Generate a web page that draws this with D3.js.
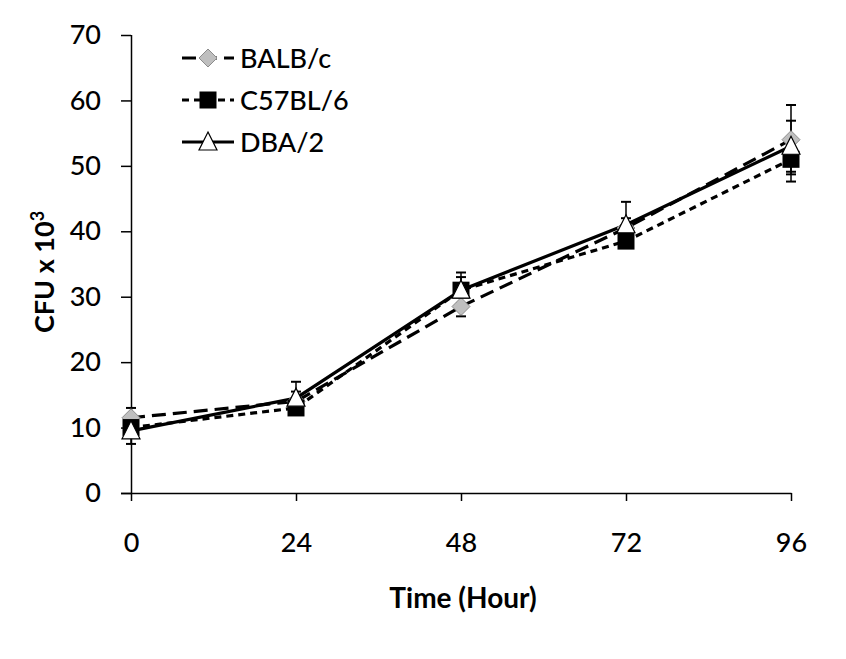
<!DOCTYPE html>
<html><head><meta charset="utf-8">
<script src="https://cdn.jsdelivr.net/npm/d3@7"></script>
<style>body{margin:0;background:#fff}svg{display:block}text{font-family:Lato,"Open Sans",sans-serif}</style>
</head><body>
<svg id="c" width="846" height="659"></svg>
<script>
const hours = [0, 24, 48, 72, 96];
const yTicks = [0, 10, 20, 30, 40, 50, 60, 70];
const seriesNames = ["BALB/c", "C57BL/6", "DBA/2"];
const balbValues = [11.5, 14.0, 28.5, 40.5, 54.0];
const balbErrors = [1.5, 1.5, 1.5, 1.5, 5.3];
const c57Values = [10.0, 13.0, 31.0, 38.5, 51.0];
const c57Errors = [1.0, 1.0, 2.7, 1.0, 3.4];
const dbaValues = [9.5, 14.5, 31.0, 41.0, 53.0];
const dbaErrors = [2.0, 2.5, 2.0, 3.5, 3.9];

const series = [
  {name: seriesNames[0], values: balbValues, errors: balbErrors, dash: "14,7", marker: "diamond"},
  {name: seriesNames[1], values: c57Values, errors: c57Errors, dash: "7,5", marker: "square"},
  {name: seriesNames[2], values: dbaValues, errors: dbaErrors, dash: null, marker: "triangle"}
];

const svg = d3.select("#c");
const x = d3.scaleLinear().domain([0, 96]).range([131, 791]);
const y = d3.scaleLinear().domain([0, 70]).range([493, 35]);

// axes
const yAxis = d3.axisLeft(y).tickValues(yTicks).tickSize(10).tickPadding(20);
const gy = svg.append("g").attr("transform", "translate(131,0)").call(yAxis);
const xAxis = d3.axisBottom(x).tickValues(hours).tickSize(8).tickPadding(32);
const gx = svg.append("g").attr("transform", "translate(0,493)").call(xAxis);
[gy, gx].forEach(g => {
  g.select(".domain").attr("stroke", "#000").attr("stroke-width", 1.5);
  g.selectAll(".tick line").attr("stroke", "#000").attr("stroke-width", 1.5);
  g.selectAll("text").attr("font-size", 27).attr("fill", "#000")
    .attr("font-weight", 500).style("font-family", "Lato, sans-serif");
});
gx.select(".domain").attr("d", "M121,0.5H791.5");
gy.select(".domain").attr("d", "M0.5,35V493");

// axis titles
svg.append("text").attr("x", 463).attr("y", 608).attr("text-anchor", "middle")
  .attr("font-size", 28).attr("font-weight", "bold").text("Time (Hour)");
const yl = svg.append("text").attr("transform", "translate(54,272) rotate(-90)")
  .attr("text-anchor", "middle").attr("font-size", 27).attr("font-weight", "bold");
yl.append("tspan").text("CFU x 10");
yl.append("tspan").attr("dy", -10).attr("font-size", 18).text("3");

const line = d3.line().x((d, i) => x(hours[i])).y(d => y(d));

function marker(g, type, cx, cy) {
  if (type === "diamond") {
    g.append("path").attr("d", `M${cx},${cy-9}L${cx+9},${cy}L${cx},${cy+9}L${cx-9},${cy}Z`)
      .attr("fill", "#bfbfbf").attr("stroke", "#8c8c8c").attr("stroke-width", 1);
  } else if (type === "square") {
    g.append("rect").attr("x", cx - 8.5).attr("y", cy - 8.5).attr("width", 17).attr("height", 17)
      .attr("fill", "#000");
  } else {
    g.append("path").attr("d", `M${cx},${cy-10}L${cx+9},${cy+8}L${cx-9},${cy+8}Z`)
      .attr("fill", "#fff").attr("stroke", "#000").attr("stroke-width", 1.2);
  }
}

// error bars
series.forEach(s => {
  const g = svg.append("g");
  s.values.forEach((v, i) => {
    const cx = x(hours[i]);
    const y1 = y(v + s.errors[i]), y0 = y(v - s.errors[i]);
    g.append("line").attr("x1", cx).attr("x2", cx).attr("y1", y1).attr("y2", y0)
      .attr("stroke", "#000").attr("stroke-width", 1.5);
    [y1, y0].forEach(yy => g.append("line").attr("x1", cx - 5).attr("x2", cx + 5)
      .attr("y1", yy).attr("y2", yy).attr("stroke", "#000").attr("stroke-width", 2));
  });
});

// lines
series.forEach(s => {
  svg.append("path").datum(s.values).attr("d", line).attr("fill", "none")
    .attr("stroke", "#000").attr("stroke-width", 3.2)
    .attr("stroke-dasharray", s.dash);
});

// markers
series.forEach(s => {
  const g = svg.append("g");
  s.values.forEach((v, i) => marker(g, s.marker, x(hours[i]), y(v)));
});

// legend
const legY = [58, 100, 142];
series.forEach((s, i) => {
  const g = svg.append("g");
  g.append("line").attr("x1", 182).attr("x2", 234).attr("y1", legY[i]).attr("y2", legY[i])
    .attr("stroke", "#000").attr("stroke-width", 3.2).attr("stroke-dasharray", s.dash);
  marker(g, s.marker, 208, legY[i]);
  g.append("text").attr("x", 240).attr("y", legY[i] + 10).attr("font-size", 27)
    .attr("font-weight", 500).text(s.name);
});
</script>
</body></html>
